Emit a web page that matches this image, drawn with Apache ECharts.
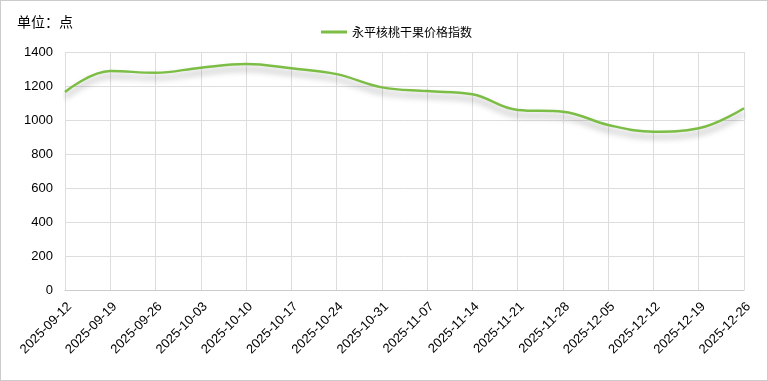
<!DOCTYPE html>
<html><head><meta charset="utf-8">
<script src="https://cdn.jsdelivr.net/npm/echarts@6/dist/echarts.min.js"></script>
<style>html,body{margin:0;padding:0;background:#fff}#c{width:766px;height:379px;border:1px solid #ccc}</style>
</head><body><div id="c"></div>
<script>
const categories = ['2025-09-12','2025-09-19','2025-09-26','2025-10-03','2025-10-10','2025-10-17','2025-10-24','2025-10-31','2025-11-07','2025-11-14','2025-11-21','2025-11-28','2025-12-05','2025-12-12','2025-12-19','2025-12-26'];
const indexValues = [1165,1288,1278,1308,1329,1304,1270,1192,1170,1151,1059,1049,971,931,951,1069];
const seriesName = '永平核桃干果价格指数';
const unitText = '单位：点';
const chart = echarts.init(document.getElementById('c'));
chart.setOption({
  animation:false,
  title:{text:unitText,left:11,top:9,textStyle:{fontSize:14,fontWeight:'normal',color:'#000',fontFamily:'Noto Sans CJK SC'}},
  legend:{data:[seriesName],top:20,left:315,itemWidth:26,itemHeight:3,textStyle:{fontSize:12,color:'#000',fontFamily:'Noto Sans CJK SC'},icon:'rect'},
  grid:{left:64,right:23,top:51,bottom:90},
  xAxis:{type:'category',data:categories,boundaryGap:false,
    axisLine:{lineStyle:{color:'#ccc'}},axisTick:{show:false},
    splitLine:{show:true,lineStyle:{color:'#ddd'}},
    axisLabel:{rotate:45,fontSize:13,color:'#000',margin:10,verticalAlign:'top',fontFamily:'Arial'}},
  yAxis:{type:'value',min:0,max:1400,interval:200,
    axisLine:{show:false},axisTick:{show:false},
    splitLine:{lineStyle:{color:'#ddd'}},
    axisLabel:{fontSize:13,color:'#000',margin:12,fontFamily:'Arial',formatter:v=>String(v)}},
  series:[{name:seriesName,type:'line',data:indexValues,smooth:0.4,showSymbol:false,
    itemStyle:{color:'#7cbd45'},
    lineStyle:{width:2.5,color:'#7cbd45',shadowColor:'rgba(0,0,0,0.35)',shadowBlur:6,shadowOffsetY:5}}]
});
</script></body></html>
